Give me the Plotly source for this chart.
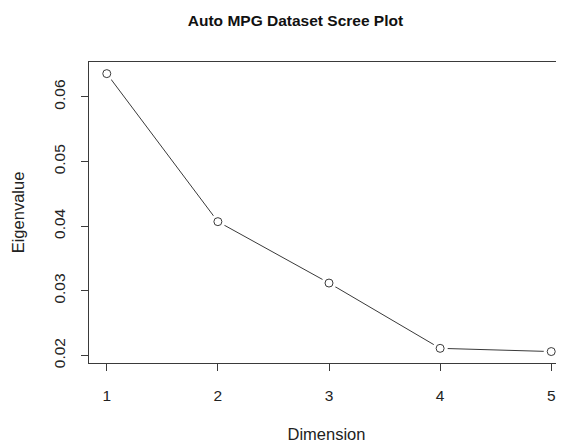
import plotly.graph_objects as go

dimensions = [1, 2, 3, 4, 5]
eigenvalues = [0.0636, 0.0407, 0.0312, 0.0211, 0.0206]
x_ticks = [1, 2, 3, 4, 5]
y_ticks = [0.02, 0.03, 0.04, 0.05, 0.06]
y_tick_labels = ["0.02", "0.03", "0.04", "0.05", "0.06"]

line_col = "#3a3a3a"
font = "Liberation Sans, Arial, Helvetica, sans-serif"
tick_font = dict(family=font, size=15.5, color="#222")
title_font = dict(family=font, size=16.5, color="#222")

fig = go.Figure()
fig.add_trace(go.Scatter(x=dimensions, y=eigenvalues, mode="lines",
                         line=dict(color=line_col, width=1), hoverinfo="skip"))
fig.add_trace(go.Scatter(x=dimensions, y=eigenvalues, mode="markers",
                         marker=dict(symbol="circle", size=15, color="white",
                                     line=dict(width=0)), hoverinfo="skip"))
fig.add_trace(go.Scatter(x=dimensions, y=eigenvalues, mode="markers",
                         marker=dict(symbol="circle-open", size=8, color=line_col,
                                     line=dict(width=1, color=line_col))))

fig.update_layout(
    width=556, height=435,
    margin=dict(l=81, r=0, t=54, b=80, autoexpand=False),
    plot_bgcolor="white", paper_bgcolor="white",
    showlegend=False,
    font=dict(family=font, size=14, color="#222"),
    title=dict(text="<b>Auto MPG Dataset Scree Plot</b>", x=0.517, xanchor="center",
               y=0.972, yanchor="middle", font=dict(size=15.5, color="#111")),
)
fig.update_xaxes(range=[0.84, 5.115], tickvals=x_ticks, ticks="outside", ticklen=7,
                 tickcolor=line_col, showgrid=False, zeroline=False, tickfont=tick_font,
                 showline=True, linecolor=line_col, linewidth=1, mirror=True,
                 ticklabelstandoff=11, automargin=False,
                 title=dict(text="Dimension", standoff=28, font=title_font))
fig.update_yaxes(range=[0.01883, 0.0654], tickvals=y_ticks, ticktext=y_tick_labels,
                 tickangle=-90, ticks="outside", ticklen=7, tickcolor=line_col,
                 tickfont=tick_font,
                 showgrid=False, zeroline=False, showline=True, linecolor=line_col,
                 linewidth=1, ticklabelstandoff=10, automargin=False,
                 title=dict(text="Eigenvalue", standoff=22, font=title_font))

fig.write_html("out.html")
